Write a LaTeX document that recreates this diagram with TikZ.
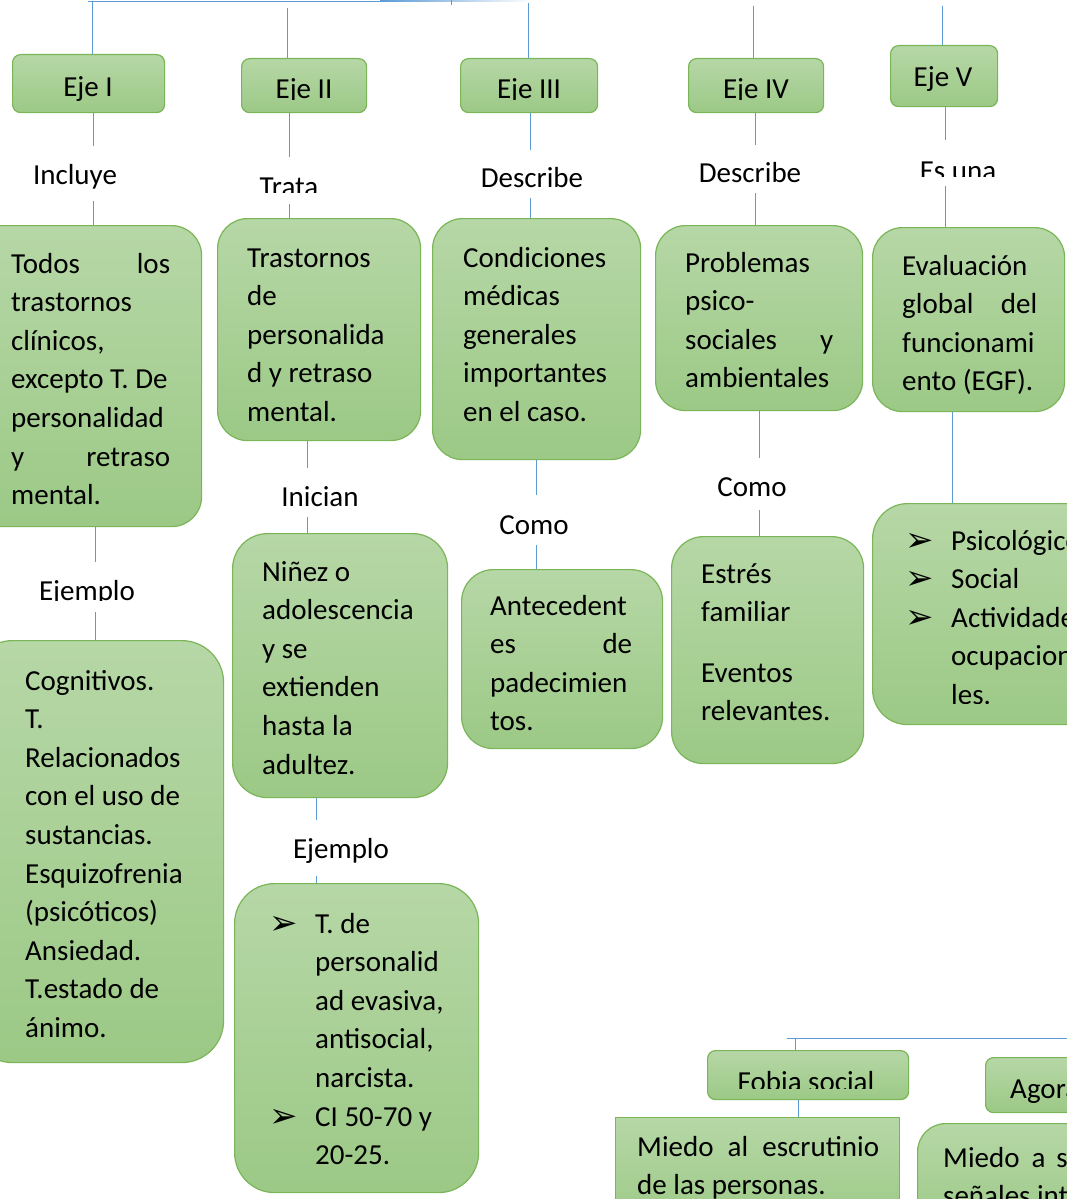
\documentclass[tikz,border=0pt]{standalone}
\usepackage{fontspec}
\setmainfont{Carlito}
\newfontfamily\dvfont{DejaVu Sans}
\usetikzlibrary{calc}
\definecolor{gtop}{RGB}{182,215,166}
\definecolor{gbot}{RGB}{156,201,134}
\definecolor{gbord}{RGB}{122,181,87}
\definecolor{lblue}{RGB}{91,155,213}
\tikzset{
  box/.style={draw=gbord, line width=1.2pt, top color=gtop, bottom color=gbot, anchor=north west, inner sep=0pt},
  conn/.style={draw=lblue, line width=1pt},
  txt/.style={anchor=base west, inner sep=0pt, font=\fontsize{29}{38.6}\selectfont},
  lab/.style={anchor=base, inner sep=0pt, font=\fontsize{29}{38.6}\selectfont},
}
\newcommand\bul{\makebox[46pt][l]{\raisebox{-1pt}{\dvfont\fontsize{34}{34}\selectfont ➢}}}
\newcommand\jl[2]{\makebox[#1][s]{#2}}
\newcommand\pb[1]{\parbox[t]{420pt}{\raggedright #1}}
\begin{document}
\begin{tikzpicture}[x=1pt,y=-1pt]
\useasboundingbox (0,0) rectangle (1067,1199);
\clip (0,0) rectangle (1067,1199);
% ---------- boxes ----------
\node[box,rounded corners=8pt,minimum width=152pt,minimum height=58pt] (e1) at (12,54) {};
\node[box,rounded corners=8pt,minimum width=125pt,minimum height=54pt] (e2) at (241,58) {};
\node[box,rounded corners=8pt,minimum width=137pt,minimum height=54pt] (e3) at (460,58) {};
\node[box,rounded corners=8pt,minimum width=135pt,minimum height=54pt] (e4) at (688,58) {};
\node[box,rounded corners=8pt,minimum width=107pt,minimum height=61pt] (e5) at (890,45) {};
\node[box,rounded corners=30pt,minimum width=231pt,minimum height=301pt] (b1) at (-30,225) {};
\node[box,rounded corners=30pt,minimum width=203pt,minimum height=222pt] (b2) at (217,218) {};
\node[box,rounded corners=30pt,minimum width=208pt,minimum height=241pt] (b3) at (432,218) {};
\node[box,rounded corners=30pt,minimum width=207pt,minimum height=185pt] (b4) at (655,225) {};
\node[box,rounded corners=30pt,minimum width=192pt,minimum height=184pt] (b5) at (872,227) {};
\node[box,rounded corners=42pt,minimum width=253pt,minimum height=422pt] (c1) at (-30,640) {};
\node[box,rounded corners=35pt,minimum width=215pt,minimum height=264pt] (c2) at (232,533) {};
\node[box,rounded corners=32pt,minimum width=201pt,minimum height=179pt] (c3) at (461,569) {};
\node[box,rounded corners=32pt,minimum width=192pt,minimum height=227pt] (c4) at (671,536) {};
\node[box,rounded corners=35pt,minimum width=240pt,minimum height=221pt] (c5) at (872,503) {};
\node[box,rounded corners=40pt,minimum width=244pt,minimum height=309pt] (d2) at (234,883) {};
\node[box,rounded corners=8pt,minimum width=201pt,minimum height=49pt] (fob) at (707,1050) {};
\node[box,minimum width=284pt,minimum height=110pt] (m1) at (615,1117) {};
\node[box,rounded corners=8pt,minimum width=120pt,minimum height=55pt] (ago) at (985,1057) {};
\node[box,rounded corners=28pt,minimum width=200pt,minimum height=110pt] (m2) at (917,1123) {};
% ---------- box texts ----------
\node[lab] (e1t) at (88,96) {Eje I};
\begin{scope}\clip (241,58) rectangle (366,99.5);
\node[lab] (e2t) at (304,98) {Eje II};
\end{scope}
\begin{scope}\clip (460,58) rectangle (597,99.5);
\node[lab] (e3t) at (529,98) {Eje III};
\end{scope}
\begin{scope}\clip (688,58) rectangle (823,99.5);
\node[lab] (e4t) at (756,98) {Eje IV};
\end{scope}
\node[lab] (e5t) at (943,86) {Eje V};
\node[txt] (b1t) at (11,273) {\pb{\jl{159pt}{Todos los}\\trastornos\\clínicos,\\excepto T. De\\personalidad\\\jl{159pt}{y retraso}\\mental.}};
\node[txt] (b2t) at (247,267) {\pb{Trastornos\\de\\personalida\\d y retraso\\mental.}};
\node[txt] (b3t) at (463,267) {\pb{Condiciones\\médicas\\generales\\importantes\\en el caso.}};
\node[txt] (b4t) at (685,272) {\pb{Problemas\\psico-\\\jl{148pt}{sociales y}\\ambientales}};
\node[txt] (b5t) at (902,275) {\pb{Evaluación\\\jl{135pt}{global del}\\funcionami\\ento (EGF).}};
\node[txt] (c1t) at (25,690) {\pb{Cognitivos.\\T.\\Relacionados\\con el uso de\\sustancias.\\Esquizofrenia\\(psicóticos)\\Ansiedad.\\T.estado de\\ánimo.}};
\node[txt] (c2t) at (262,581) {\pb{Niñez o\\adolescencia\\y se\\extienden\\hasta la\\adultez.}};
\begin{scope}\clip (461,569) rectangle (662,731);
\node[txt] (c3t) at (490,615) {\pb{Antecedent\\\jl{142pt}{es de}\\padecimien\\tos.}};
\end{scope}
\node[txt] (c4t) at (701,583) {\pb{Estrés\\familiar}};
\node[txt] (c4u) at (701,682) {\pb{Eventos\\relevantes.}};
\begin{scope}\clip (872,503) rectangle (1067,703);
\node[txt] (c5t) at (905,550) {\pb{\bul Psicológico\\\bul Social\\\bul Actividades\\\hspace*{46pt}ocupaciona\\\hspace*{46pt}les.}};
\end{scope}
\node[txt] (d2t) at (269,933) {\pb{\bul T. de\\\hspace*{46pt}personalid\\\hspace*{46pt}ad evasiva,\\\hspace*{46pt}antisocial,\\\hspace*{46pt}narcista.\\\bul CI 50-70 y\\\hspace*{46pt}20-25.}};
\begin{scope}\clip (707,1050) rectangle (908,1088);
\node[lab] (fobt) at (806,1091) {Fobia social};
\end{scope}
\node[txt] (m1t) at (637,1156) {\pb{\jl{242pt}{Miedo al escrutinio}\\de las personas.}};
\begin{scope}\clip (985,1057) rectangle (1105,1106);
\node[txt] (agot) at (1010,1098) {Agorafobia};
\end{scope}
\node[txt] (m2t) at (943,1167) {\pb{Miedo\hspace{12pt}a\hspace{11pt}sufrir\\señales internas}};
% ---------- labels ----------
\node[lab,text height=38pt,text depth=17pt] (l1) at (75,184) {Incluye};
\begin{scope}\clip (200,150) rectangle (400,192.5);
\node[lab,text height=39pt,text depth=8pt] (l2) at (289,196) {Trata};
\end{scope}
\node[lab,text height=37pt,text depth=11pt] (l3) at (532,187) {Describe};
\node[lab,text height=37pt,text depth=11pt] (l4) at (750,182) {Describe};
\begin{scope}\clip (880,130) rectangle (1060,176);
\node[lab,text height=40pt,text depth=6pt] (l5) at (958,180) {Es una};
\end{scope}
\begin{scope}\clip (0,560) rectangle (200,600.5);
\node[lab,text height=38pt,text depth=12pt] (l6) at (87,600) {Ejemplo};
\end{scope}
\node[lab,text height=38pt,text depth=11pt] (l7) at (320,506) {Inician};
\node[lab,text height=39pt,text depth=11pt] (l8) at (534,534) {Como};
\node[lab,text height=38pt,text depth=14pt] (l9) at (752,496) {Como};
\node[lab,text height=38pt,text depth=18pt] (l10) at (341,858) {Ejemplo};
% ---------- connector coordinates ----------
\coordinate (busL) at (88,1.5);
\coordinate (busM) at (380,1.5);
\coordinate (par) at (451,0);
\coordinate (parb) at (451,5);
\coordinate (t1) at (92,1.5);
\coordinate (t2) at (287,8);
\coordinate (t3) at (528,3);
\coordinate (t4) at (753,6);
\coordinate (t5) at (942,6);
\coordinate (k1) at (93,0);
\coordinate (k2) at (289,0);
\coordinate (k3) at (530,0);
\coordinate (k4) at (755,0);
\coordinate (k5) at (945,0);
\coordinate (k6) at (95,0);
\coordinate (k7) at (307,0);
\coordinate (k8) at (536,0);
\coordinate (k9) at (759,0);
\coordinate (k10) at (952,0);
\coordinate (k11) at (316,0);
\coordinate (bus2L) at (787,1038);
\coordinate (bus2R) at (1067,1038);
\coordinate (k12) at (795,0);
\coordinate (k13) at (798,0);
% ---------- connectors ----------
\draw[conn] (busL) -- (busM);
\shade[left color=lblue,right color=white] (380,1) rectangle (532,2);
\draw[conn] (par) -- (parb);
\draw[conn] (t1) -- (t1 |- e1.north);
\draw[conn] (t2) -- (t2 |- e2.north);
\draw[conn] (t3) -- (t3 |- e3.north);
\draw[conn] (t4) -- (t4 |- e4.north);
\draw[conn] (t5) -- (t5 |- e5.north);
\draw[conn] (e1.south -| k1) -- (l1.north -| k1);
\draw[conn] (l1.south -| k1) -- (b1.north -| k1);
\draw[conn] (e2.south -| k2) -- (l2.north -| k2);
\draw[conn] (l2.south -| k2) -- (b2.north -| k2);
\draw[conn] (e3.south -| k3) -- (l3.north -| k3);
\draw[conn] (l3.south -| k3) -- (b3.north -| k3);
\draw[conn] (e4.south -| k4) -- (l4.north -| k4);
\draw[conn] (l4.south -| k4) -- (b4.north -| k4);
\draw[conn] (e5.south -| k5) -- (l5.north -| k5);
\draw[conn] (l5.south -| k5) -- (b5.north -| k5);
\draw[conn] (b1.south -| k6) -- (l6.north -| k6);
\draw[conn] (l6.south -| k6) -- (c1.north -| k6);
\draw[conn] (b2.south -| k7) -- (l7.north -| k7);
\draw[conn] (l7.south -| k7) -- (c2.north -| k7);
\draw[conn] (b3.south -| k8) -- (l8.north -| k8);
\draw[conn] (l8.south -| k8) -- (c3.north -| k8);
\draw[conn] (b4.south -| k9) -- (l9.north -| k9);
\draw[conn] (l9.south -| k9) -- (c4.north -| k9);
\draw[conn] (b5.south -| k10) -- (c5.north -| k10);
\draw[conn] (c2.south -| k11) -- (l10.north -| k11);
\draw[conn] (l10.south -| k11) -- (d2.north -| k11);
\draw[conn] (bus2L) -- (bus2R);
\draw[conn] (bus2L -| k12) -- (fob.north -| k12);
\draw[conn] (fob.south -| k13) -- (m1.north -| k13);
\end{tikzpicture}
\end{document}
